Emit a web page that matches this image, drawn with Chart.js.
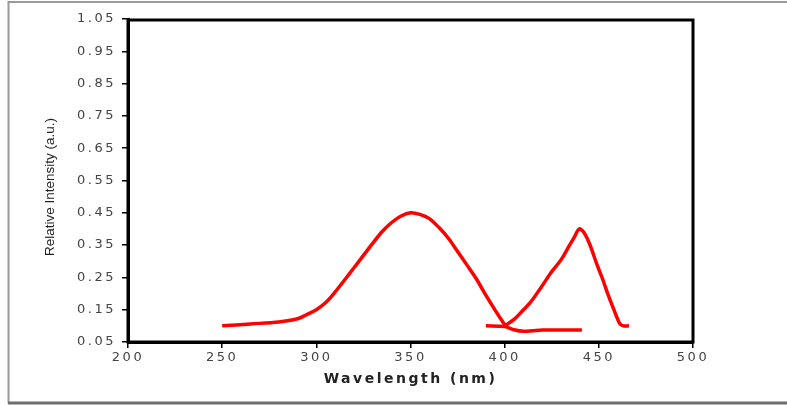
<!DOCTYPE html>
<html>
<head>
<meta charset="utf-8">
<title>Relative Intensity vs Wavelength</title>
<script src="https://cdn.jsdelivr.net/npm/chart.js@4.4.1/dist/chart.umd.min.js"></script>
<style>
  html, body { margin: 0; padding: 0; background: #fff; }
  #wrap { width: 787px; height: 405px; position: relative; }
</style>
</head>
<body>
<div id="wrap"><canvas id="spectraChart"></canvas></div>
<script>
/* data */
const excitationWl = [250, 265, 280, 290, 295, 300, 305, 310, 315, 320, 325, 330, 335, 340, 345, 350, 355, 360, 365, 370, 375, 380, 385, 390, 395, 400];
const excitationVal = [0.100, 0.106, 0.112, 0.122, 0.135, 0.150, 0.172, 0.205, 0.242, 0.280, 0.318, 0.356, 0.392, 0.420, 0.440, 0.450, 0.445, 0.432, 0.405, 0.372, 0.330, 0.288, 0.245, 0.195, 0.148, 0.103];

const emissionWl = [400, 405, 410, 414, 420, 425, 430, 434, 437, 439.5, 442, 445, 449, 452, 455, 458, 461, 463, 466];
const emissionVal = [0.100, 0.120, 0.150, 0.175, 0.225, 0.268, 0.305, 0.345, 0.375, 0.400, 0.390, 0.355, 0.290, 0.245, 0.195, 0.150, 0.108, 0.100, 0.100];

const baselineWl = [390, 400, 405, 410, 415, 420, 430, 441];
const baselineVal = [0.100, 0.098, 0.088, 0.083, 0.085, 0.087, 0.087, 0.087];

const xTicks = [200, 250, 300, 350, 400, 450, 500];
const yTicks = [0.05, 0.15, 0.25, 0.35, 0.45, 0.55, 0.65, 0.75, 0.85, 0.95, 1.05];

const xTitle = 'Wavelength (nm)';
const yTitle = 'Relative Intensity (a.u.)';

function toPoints(xs, ys) {
    return xs.map((x, i) => ({ x: x, y: ys[i] }));
}

function redLine(label, xs, ys) {
    return {
        label: label,
        data: toPoints(xs, ys),
        borderColor: '#ff0000',
        backgroundColor: '#ff0000',
        borderWidth: 3.5,
        pointRadius: 0,
        fill: false,
        tension: 0.3
    };
}

// outer frame, tick label spacing, box round the plot
const framePlugin = {
    id: 'frame',
    beforeDraw(chart) {
        const ctx = chart.ctx;
        ctx.save();
        ctx.fillStyle = '#fff';
        ctx.fillRect(0, 0, chart.width, chart.height);
        ctx.strokeStyle = '#9a9a9a';
        ctx.lineWidth = 2;
        ctx.beginPath();
        ctx.moveTo(8.5, 403);
        ctx.lineTo(8.5, 2);
        ctx.lineTo(787, 2);
        ctx.stroke();
        ctx.strokeStyle = '#6e6e6e';
        ctx.lineWidth = 3;
        ctx.beginPath();
        ctx.moveTo(8, 403);
        ctx.lineTo(787, 403);
        ctx.stroke();
        ctx.restore();
        ctx.letterSpacing = '2.5px';
    },
    afterDatasetsDraw(chart) {
        const { ctx, chartArea: a } = chart;
        ctx.save();
        ctx.strokeStyle = '#000';
        ctx.lineWidth = 3;
        ctx.strokeRect(a.left, a.top + 1, a.right - a.left, a.bottom - a.top - 1);
        ctx.restore();
    },
    afterDraw(chart) {
        // y title is narrow, so it is drawn here without the letter spacing
        const ctx = chart.ctx;
        ctx.save();
        ctx.letterSpacing = '0px';
        ctx.translate(50, 187);
        ctx.rotate(-Math.PI / 2);
        ctx.font = '13.5px "Liberation Sans Narrow", "Liberation Sans", Arial, sans-serif';
        ctx.fillStyle = '#222';
        ctx.textAlign = 'center';
        ctx.textBaseline = 'middle';
        ctx.fillText(yTitle, 0, 0);
        ctx.restore();
    }
};

const ctx = document.getElementById('spectraChart');

new Chart(ctx, {
    type: 'line',
    data: {
        datasets: [
            redLine('Excitation', excitationWl, excitationVal),
            redLine('Emission', emissionWl, emissionVal),
            redLine('Baseline', baselineWl, baselineVal)
        ]
    },
    options: {
        responsive: true,
        maintainAspectRatio: false,
        animation: false,
        events: [],
        layout: { padding: { top: 19, right: 94, left: 0, bottom: 0 } },
        plugins: {
            legend: { display: false },
            tooltip: { enabled: false }
        },
        scales: {
            x: {
                type: 'linear',
                min: 200,
                max: 500,
                afterBuildTicks: (scale) => { scale.ticks = xTicks.map(v => ({ value: v })); },
                afterFit: (scale) => { scale.height = 63; },
                grid: { drawOnChartArea: false, drawTicks: true, tickLength: 6, color: '#000', lineWidth: 1.5 },
                border: { display: true, color: '#000', width: 3 },
                ticks: {
                    padding: 2,
                    maxRotation: 0,
                    color: '#444',
                    font: { family: '"DejaVu Sans", sans-serif', size: 13 },
                    callback: (v) => v
                },
                title: {
                    display: true,
                    text: xTitle,
                    color: '#222',
                    font: { family: '"DejaVu Sans", sans-serif', size: 14, weight: 'bold' },
                    padding: { top: 0, bottom: 17 }
                }
            },
            y: {
                type: 'linear',
                min: 0.05,
                max: 1.05,
                afterBuildTicks: (scale) => { scale.ticks = yTicks.map(v => ({ value: v })); },
                afterFit: (scale) => { scale.width = 128; },
                grid: { drawOnChartArea: false, drawTicks: true, tickLength: 6, color: '#000', lineWidth: 1.5 },
                border: { display: true, color: '#000', width: 3 },
                ticks: {
                    padding: 6,
                    color: '#444',
                    font: { family: '"DejaVu Sans", sans-serif', size: 13 },
                    callback: (v) => v.toFixed(2)
                },
                title: { display: false }
            }
        }
    },
    plugins: [framePlugin]
});
</script>
</body>
</html>
